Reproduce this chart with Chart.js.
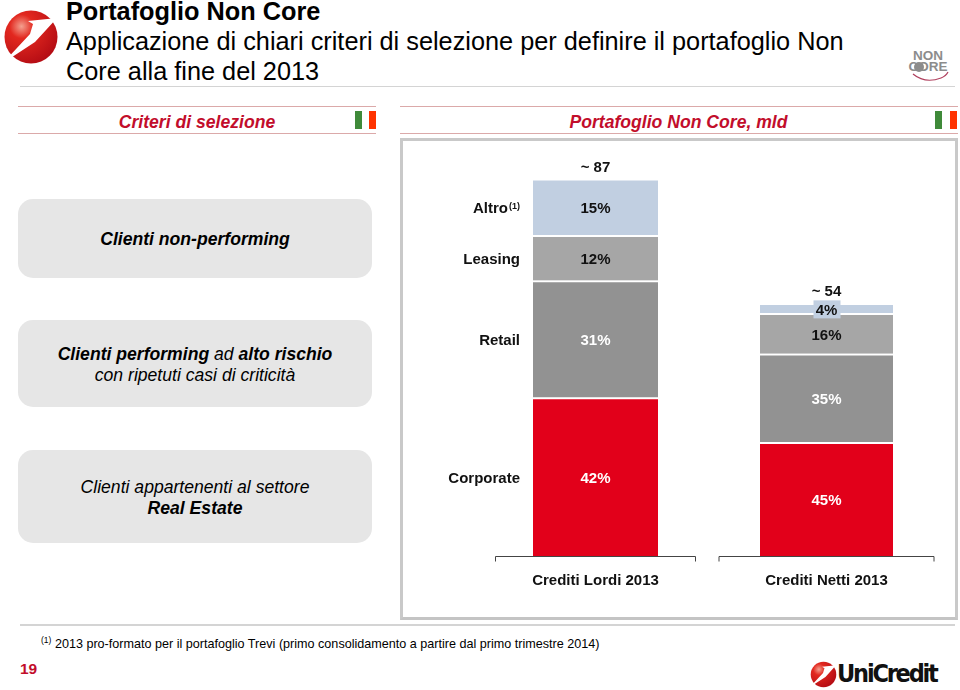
<!DOCTYPE html>
<html lang="it">
<head>
<meta charset="utf-8">
<title>Portafoglio Non Core</title>
<script src="https://cdn.jsdelivr.net/npm/chart.js@4"></script>
<style>
    html, body { margin: 0; padding: 0; background: #fff; }
    body { width: 960px; height: 690px; position: relative; overflow: hidden; font-family: "Liberation Sans", Arial, sans-serif; color: #000; }
    .abs { position: absolute; }
    .title { left: 66px; font-size: 25.3px; line-height: 30px; white-space: nowrap; }
    .rule { height: 1px; background: #dba9a9; }
    .rule.grey { background: #d4d4d4; height: 2px; }
    .head { color: #c20d2b; font-style: italic; font-weight: bold; font-size: 17.6px; text-align: center; line-height: 20px; }
    .flag { width: 21px; height: 18px; background: linear-gradient(90deg, #3f8a3a 0 33%, #fff 33% 66%, #ff3300 66% 100%); }
    .box { left: 18px; width: 354px; box-sizing: border-box; padding-top: 2px; background: #e6e6e6; border-radius: 15px; display: flex; align-items: center; justify-content: center; text-align: center; font-style: italic; font-size: 17.6px; line-height: 21px; }
    .panel { left: 400px; top: 138px; width: 552px; height: 476px; border: 3px solid #c9c9c9; border-bottom-color: #c4c4c4; }
    #chartCanvas { position: absolute; left: 400px; top: 138px; }
    sup { font-size: 8.5px; line-height: 0; vertical-align: 5px; }
</style>
</head>
<body>
<svg width="0" height="0" style="position:absolute">
    <defs>
        <radialGradient id="ballGrad" cx="32%" cy="30%" r="75%">
            <stop offset="0" stop-color="#f4a08f"/>
            <stop offset="0.3" stop-color="#e2281f"/>
            <stop offset="1" stop-color="#b50d14"/>
        </radialGradient>
        <symbol id="ball" viewBox="0 0 56 56">
            <circle cx="28" cy="28" r="26.5" fill="url(#ballGrad)"/>
            <polygon points="0,54 27,25 30,15 25,12 54,9 32,33" fill="#fff"/>
        </symbol>
    </defs>
</svg>

<svg class="abs" style="left:3px;top:9px" width="56" height="56"><use href="#ball"/></svg>
<div class="abs title" style="top:-4px;font-weight:bold">Portafoglio Non Core</div>
<div class="abs title" style="top:26px">Applicazione di chiari criteri di selezione per definire il portafoglio Non</div>
<div class="abs title" style="top:56px">Core alla fine del 2013</div>
<div class="abs rule grey" style="left:20px;top:86px;width:935px;height:1px"></div>

<div class="abs" style="left:906px;top:50px;width:44px;text-align:center;color:#8c8c8c;font-weight:bold;font-size:13.5px;line-height:11px">NON<br>CORE</div>
<svg class="abs" style="left:899px;top:60px" width="56" height="24"><circle cx="20" cy="7" r="5" fill="#8c8c8c"/><path d="M14 14 Q26 24 42 18 Q47 16 49 12" fill="none" stroke="#b0405e" stroke-width="1.2"/></svg>

<div class="abs rule" style="left:18px;top:106px;width:358px"></div>
<div class="abs rule" style="left:18px;top:133px;width:358px"></div>
<div class="abs head" style="left:18px;top:112px;width:358px">Criteri di selezione</div>
<div class="abs flag" style="left:355px;top:111px"></div>

<div class="abs rule" style="left:400px;top:106px;width:558px"></div>
<div class="abs rule" style="left:400px;top:133px;width:558px"></div>
<div class="abs head" style="left:400px;top:112px;width:557px">Portafoglio Non Core, mld</div>
<div class="abs flag" style="left:935px;top:111px;width:22px"></div>

<div class="abs box" style="top:199px;height:79px"><b>Clienti non-performing</b></div>
<div class="abs box" style="top:320px;height:87px"><div><b>Clienti performing</b> ad <b>alto rischio</b><br>con ripetuti casi di criticità</div></div>
<div class="abs box" style="top:450px;height:93px"><div>Clienti appartenenti al settore<br><b>Real Estate</b></div></div>

<div class="abs panel"></div>
<canvas id="chartCanvas" width="558" height="482" style="width:558px;height:482px"></canvas>

<div class="abs rule grey" style="left:20px;top:624px;width:935px"></div>
<div class="abs" style="left:41px;top:636px;font-size:12.6px;line-height:16px;white-space:nowrap"><sup>(1)</sup> 2013 pro-formato per il portafoglio Trevi (primo consolidamento a partire dal primo trimestre 2014)</div>
<div class="abs" style="left:20px;top:660px;color:#c20d2b;font-weight:bold;font-size:15.5px;line-height:18px">19</div>

<svg class="abs" style="left:810px;top:661px" width="27" height="27"><use href="#ball"/></svg>
<div class="abs" style="left:837px;top:658px;width:102px;font-family:'DejaVu Sans Condensed','DejaVu Sans',sans-serif;font-weight:bold;font-size:25px;line-height:32px;letter-spacing:-2.2px;white-space:nowrap;color:#111">UniCredit</div>

<script>
// Valori
const categories = ['Crediti Lordi 2013', 'Crediti Netti 2013'];
const corporate = [42, 45];
const retail = [31, 35];
const leasing = [12, 16];
const altro = [15, 4];
const totals = [87, 54];
// altezza relativa delle due colonne (nel grafico non sono in scala con i totali)
const columnHeight = [1, 0.67];

const seriesNames = ['Corporate', 'Retail', 'Leasing', 'Altro'];
const seriesValues = [corporate, retail, leasing, altro];
const seriesColors = ['#e2001a', '#929292', '#a6a6a6', '#c1cfe1'];
const valueColors = ['#fff', '#fff', '#111', '#111'];
const barWidths = [125, 133];

const FONT = '"Liberation Sans", Arial, sans-serif';

// una serie di dataset per colonna, cosi' ogni colonna ha la sua larghezza
const datasets = [];
categories.forEach((cat, c) => {
    seriesNames.forEach((name, s) => {
        datasets.push({
            label: name,
            stack: cat,
            grouped: false,
            barThickness: barWidths[c],
            data: categories.map((_, i) => i === c ? seriesValues[s][i] * columnHeight[i] : null),
            backgroundColor: seriesColors[s],
            borderColor: '#fff',
            borderWidth: { top: 2, left: 0, right: 0, bottom: 0 },
            borderSkipped: false,
            seriesIndex: s,
            columnIndex: c
        });
    });
});

function boldText(ctx, text, x, y, align, color) {
    ctx.font = `bold 15px ${FONT}`;
    ctx.textAlign = align || 'center';
    ctx.textBaseline = 'middle';
    ctx.fillStyle = color || '#111';
    ctx.fillText(text, x, y);
}

const labelsPlugin = {
    id: 'slideLabels',
    afterDatasetsDraw(chart) {
        const ctx = chart.ctx;
        const xScale = chart.scales.x;
        ctx.save();

        chart.data.datasets.forEach((ds, d) => {
            const el = chart.getDatasetMeta(d).data[ds.columnIndex];
            const props = el.getProps(['x', 'y', 'base'], true);
            const midY = (props.y + props.base) / 2 + 2;
            const value = seriesValues[ds.seriesIndex][ds.columnIndex];

            // il 4% sta su un riquadro piu' alto della fetta
            if (value === 4) {
                ctx.fillStyle = seriesColors[ds.seriesIndex];
                ctx.fillRect(props.x - 13, midY - 10, 27, 18);
            }
            boldText(ctx, value + '%', props.x, midY, 'center', valueColors[ds.seriesIndex]);

            // nomi delle fette a sinistra della prima colonna
            if (ds.columnIndex === 0) {
                const labelX = props.x - barWidths[0] / 2 - 13;
                if (ds.label === 'Altro') {
                    ctx.font = `bold 9px ${FONT}`;
                    ctx.textAlign = 'right';
                    ctx.textBaseline = 'middle';
                    ctx.fillStyle = '#111';
                    ctx.fillText('(1)', labelX, midY - 3);
                    boldText(ctx, ds.label, labelX - 12, midY, 'right');
                } else {
                    boldText(ctx, ds.label, labelX, midY, 'right');
                }
            }

            // totale sopra l'ultima fetta
            if (ds.seriesIndex === seriesNames.length - 1) {
                boldText(ctx, '~ ' + totals[ds.columnIndex], props.x, props.y - 11);
            }
        });

        // parentesi sotto le colonne
        const axisY = chart.chartArea.bottom + 0.5;
        const spans = [100, 107.5];
        ctx.strokeStyle = '#444';
        ctx.lineWidth = 1;
        categories.forEach((cat, i) => {
            const cx = xScale.getPixelForValue(i);
            ctx.beginPath();
            ctx.moveTo(cx - spans[i], axisY + 5);
            ctx.lineTo(cx - spans[i], axisY);
            ctx.lineTo(cx + spans[i], axisY);
            ctx.lineTo(cx + spans[i], axisY + 5);
            ctx.stroke();
        });
        ctx.restore();
    }
};

new Chart(document.getElementById('chartCanvas'), {
    type: 'bar',
    data: { labels: categories, datasets: datasets },
    options: {
        responsive: false,
        animation: false,
        layout: { padding: { left: 80, right: 16, top: 22, bottom: 14 } },
        plugins: { legend: { display: false }, tooltip: { enabled: false } },
        scales: {
            x: {
                stacked: true,
                grid: { display: false, drawTicks: false },
                border: { display: false },
                ticks: { color: '#111', padding: 16, maxRotation: 0, font: { family: FONT, size: 15, weight: 'bold' } }
            },
            y: { stacked: true, display: false, min: 0, max: 105 }
        }
    },
    plugins: [labelsPlugin]
});
</script>
</body>
</html>
